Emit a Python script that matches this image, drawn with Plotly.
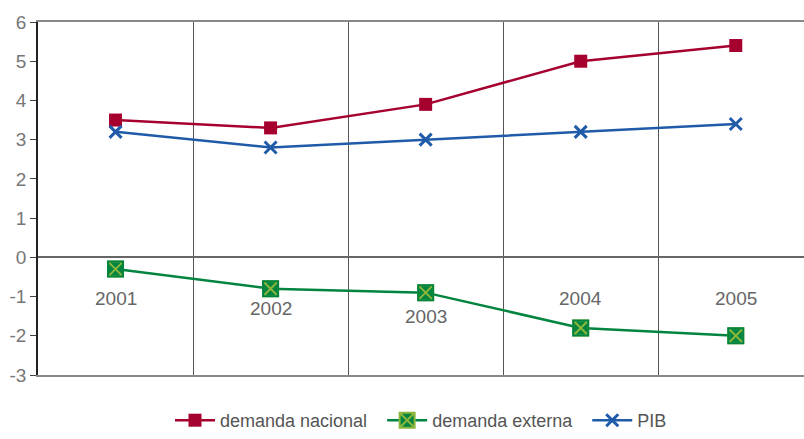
import plotly.graph_objects as go

years = ["2001", "2002", "2003", "2004", "2005"]
demanda_nacional = [3.5, 3.3, 3.9, 5.0, 5.4]
demanda_externa = [-0.3, -0.8, -0.9, -1.8, -2.0]
pib = [3.2, 2.8, 3.0, 3.2, 3.4]
year_label_y = [-1.05, -1.3, -1.5, -1.05, -1.05]
y_ticks = [-3, -2, -1, 0, 1, 2, 3, 4, 5, 6]
y_tick_text = ["-3", "-2", "-1", "0", "1", "2", "3", "4", "5", "6"]

xs = list(range(len(years)))
red = "#A6002F"
green = "#00843F"
lime = "#8DB63C"
blue = "#1F5BA8"
font = "Liberation Sans"

fig = go.Figure()
fig.add_trace(go.Scatter(
    x=xs, y=demanda_nacional, name="demanda nacional  ", mode="lines+markers",
    line=dict(color=red, width=2.5),
    marker=dict(symbol="square", size=13, color=red)))
fig.add_trace(go.Scatter(
    x=xs, y=demanda_externa, name="demanda externa  ", mode="lines+markers",
    line=dict(color=green, width=2.5),
    marker=dict(symbol="square-x", size=15, color=green,
                line=dict(color=lime, width=2))))
# cover the lime outline so only the cross stays lime
fig.add_trace(go.Scatter(
    x=xs, y=demanda_externa, mode="markers", showlegend=False, hoverinfo="skip",
    marker=dict(symbol="square-open", size=15, color=green,
                line=dict(color=green, width=2))))
fig.add_trace(go.Scatter(
    x=xs, y=pib, name="PIB", mode="lines+markers",
    line=dict(color=blue, width=2.5),
    marker=dict(symbol="x-thin", size=12, line=dict(color=blue, width=3))))

for i, yr in enumerate(years):
    fig.add_annotation(x=xs[i], y=year_label_y[i], text=yr, showarrow=False,
                       font=dict(family=font, size=19, color="#666666"))

fig.update_layout(
    width=804, height=439,
    margin=dict(l=38, r=0, t=22, b=64),
    plot_bgcolor="white", paper_bgcolor="white",
    font=dict(family=font, color="#666666"),
    showlegend=True,
    legend=dict(orientation="h", x=0.5, xanchor="center",
                yref="container", y=-0.018, yanchor="bottom",
                font=dict(size=18, color="#555555"), itemwidth=40,
                traceorder="normal"),
    xaxis=dict(range=[-0.5, 4.44], tickvals=[0.5, 1.5, 2.5, 3.5],
               showticklabels=False, showgrid=True, gridcolor="#555555",
               gridwidth=1, showline=True, mirror=True, linecolor="#888888",
               linewidth=1.5, zeroline=False, ticks="", automargin=False),
    yaxis=dict(range=[-3, 6], tickvals=y_ticks, ticktext=y_tick_text,
               showgrid=False, zeroline=True, automargin=False,
               zerolinecolor="#666666", zerolinewidth=1.5,
               showline=True, linecolor="#222222", linewidth=1.5,
               ticks="outside", ticklen=6, tickcolor="#444444",
               tickfont=dict(size=19, color="#777777")),
)

fig.write_html("out.html", config={"displayModeBar": False},
               post_script="document.body.style.margin='0';")
